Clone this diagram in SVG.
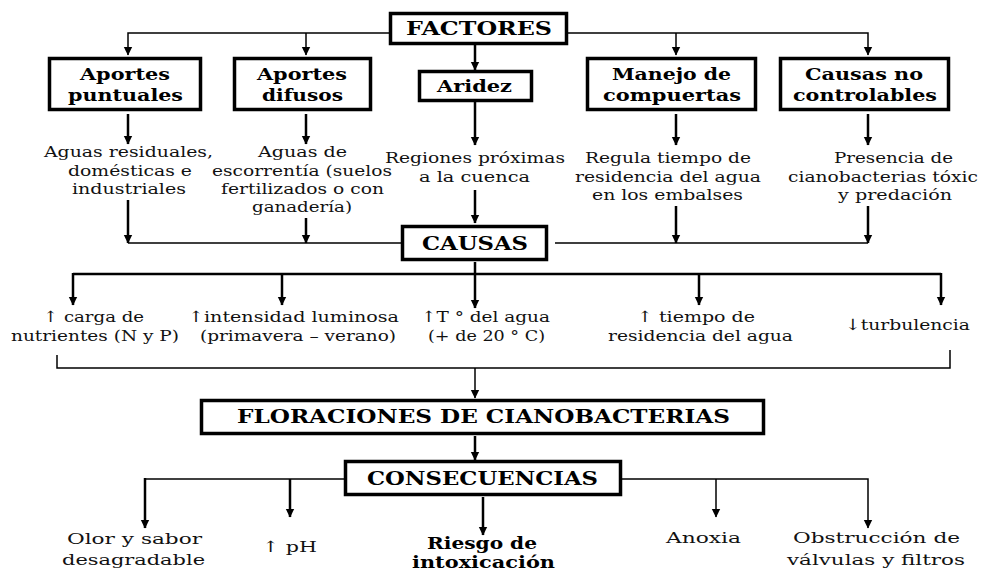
<svg xmlns="http://www.w3.org/2000/svg" width="982" height="571" viewBox="0 0 982 571">
<style>
.box{fill:#fff;stroke:#000;stroke-width:3.5}
.bt{font-family:"DejaVu Serif","Liberation Serif",serif;font-weight:bold;font-size:16.5px;fill:#000;text-anchor:middle}
.bb{font-size:18px}
.t{font-family:"DejaVu Serif","Liberation Serif",serif;font-size:15.5px;fill:#111;text-anchor:middle}
.c{fill:none;stroke:#000;stroke-width:2.5}
.thin{fill:none;stroke:#000;stroke-width:1.5}
</style>
<defs>
<marker id="a" markerUnits="userSpaceOnUse" markerWidth="10" markerHeight="10" viewBox="0 0 10 10" refX="9" refY="5" orient="auto">
<path d="M1,0.8 L9.5,5 L1,9.2 Z" fill="#000"/>
</marker>
</defs>

<g id="connectors">
<path class="thin" d="M389,33 H128 V55" marker-end="url(#a)"/>
<path class="thin" d="M306,33 V55" marker-end="url(#a)"/>
<path class="thin" d="M568,33 H868 V55" marker-end="url(#a)"/>
<path class="thin" d="M676,33 V55" marker-end="url(#a)"/>
<path class="c" d="M475,45 V70" marker-end="url(#a)"/>
<path class="c" d="M128,114 V144" marker-end="url(#a)"/>
<path class="c" d="M306,114 V144" marker-end="url(#a)"/>
<path class="c" d="M475,102 V145" marker-end="url(#a)"/>
<path class="c" d="M676,114 V145" marker-end="url(#a)"/>
<path class="c" d="M868,114 V145" marker-end="url(#a)"/>
<path class="c" d="M128,200 V243" marker-end="url(#a)"/>
<path class="c" d="M306,218 V243" marker-end="url(#a)"/>
<path class="c" d="M475,190 V223" marker-end="url(#a)"/>
<path class="c" d="M676,206 V243" marker-end="url(#a)"/>
<path class="c" d="M868,206 V243" marker-end="url(#a)"/>
<path class="thin" d="M128,243 H401 M555,243 H868"/>
<path class="c" d="M475,262 V308" marker-end="url(#a)"/>
<path class="c" d="M73,274 H941"/>
<path class="c" d="M73,273 V305" marker-end="url(#a)"/>
<path class="c" d="M941,273 V305" marker-end="url(#a)"/>
<path class="c" d="M282,274 V305" marker-end="url(#a)"/>
<path class="c" d="M699,274 V305" marker-end="url(#a)"/>
<path class="thin" d="M57,355 V368 H950 V350"/>
<path class="thin" d="M475,368 V398" marker-end="url(#a)"/>
<path class="c" d="M475,436 V460" marker-end="url(#a)"/>
<path class="thin" d="M344,479 H145"/>
<path class="c" d="M145,478 V528" marker-end="url(#a)"/>
<path class="c" d="M290,479 V517" marker-end="url(#a)"/>
<path class="thin" d="M622,479 H868 V528" marker-end="url(#a)"/>
<path class="thin" d="M716,479 V517" marker-end="url(#a)"/>
<path class="c" d="M483,497 V535" marker-end="url(#a)"/>
</g>

<g id="factores">
<rect class="box" x="390.5" y="13.5" width="176" height="30"/>
<text class="bt bb" x="479" y="35" textLength="146" lengthAdjust="spacingAndGlyphs">FACTORES</text>
</g>
<g id="aportes-puntuales">
<rect class="box" x="49.5" y="58.5" width="151" height="51"/>
<text class="bt" x="125" y="80" textLength="90" lengthAdjust="spacingAndGlyphs">Aportes</text>
<text class="bt" x="125.5" y="101" textLength="115" lengthAdjust="spacingAndGlyphs">puntuales</text>
</g>
<g id="aportes-difusos">
<rect class="box" x="234.5" y="58.5" width="136" height="51"/>
<text class="bt" x="302" y="80" textLength="90" lengthAdjust="spacingAndGlyphs">Aportes</text>
<text class="bt" x="302.5" y="101" textLength="81" lengthAdjust="spacingAndGlyphs">difusos</text>
</g>
<g id="aridez">
<rect class="box" x="419.5" y="71.5" width="112" height="29"/>
<text class="bt" x="474.5" y="92" textLength="75" lengthAdjust="spacingAndGlyphs">Aridez</text>
</g>
<g id="manejo">
<rect class="box" x="587.5" y="58.5" width="168" height="51"/>
<text class="bt" x="671.5" y="80" textLength="119" lengthAdjust="spacingAndGlyphs">Manejo de</text>
<text class="bt" x="672" y="101" textLength="138" lengthAdjust="spacingAndGlyphs">compuertas</text>
</g>
<g id="causas-no-controlables">
<rect class="box" x="780.5" y="58.5" width="168" height="51"/>
<text class="bt" x="864" y="80" textLength="118" lengthAdjust="spacingAndGlyphs">Causas no</text>
<text class="bt" x="865" y="101" textLength="144" lengthAdjust="spacingAndGlyphs">controlables</text>
</g>

<g id="aguas-residuales">
<text class="t" x="128.5" y="157" textLength="169" lengthAdjust="spacingAndGlyphs">Aguas residuales,</text>
<text class="t" x="130" y="176" textLength="124" lengthAdjust="spacingAndGlyphs">domésticas e</text>
<text class="t" x="129" y="194" textLength="114" lengthAdjust="spacingAndGlyphs">industriales</text>
</g>
<g id="aguas-escorrentia">
<text class="t" x="302.5" y="157" textLength="89" lengthAdjust="spacingAndGlyphs">Aguas de</text>
<text class="t" x="302" y="176" textLength="180" lengthAdjust="spacingAndGlyphs">escorrentía (suelos</text>
<text class="t" x="302.5" y="194" textLength="163" lengthAdjust="spacingAndGlyphs">fertilizados o con</text>
<text class="t" x="302" y="212" textLength="100" lengthAdjust="spacingAndGlyphs">ganadería)</text>
</g>
<g id="regiones">
<text class="t" x="475" y="163" textLength="180" lengthAdjust="spacingAndGlyphs">Regiones próximas</text>
<text class="t" x="474.5" y="182" textLength="111" lengthAdjust="spacingAndGlyphs">a la cuenca</text>
</g>
<g id="regula">
<text class="t" x="668" y="163" textLength="166" lengthAdjust="spacingAndGlyphs">Regula tiempo de</text>
<text class="t" x="668" y="182" textLength="186" lengthAdjust="spacingAndGlyphs">residencia del agua</text>
<text class="t" x="667.5" y="200" textLength="151" lengthAdjust="spacingAndGlyphs">en los embalses</text>
</g>
<g id="presencia">
<text class="t" x="893.5" y="163" textLength="119" lengthAdjust="spacingAndGlyphs">Presencia de</text>
<text class="t" x="883" y="182" textLength="190" lengthAdjust="spacingAndGlyphs">cianobacterias tóxic</text>
<text class="t" x="895" y="200" textLength="114" lengthAdjust="spacingAndGlyphs">y predación</text>
</g>

<g id="causas">
<rect class="box" x="402.5" y="226.5" width="144" height="33"/>
<text class="bt bb" x="475" y="250" textLength="106" lengthAdjust="spacingAndGlyphs">CAUSAS</text>
</g>

<g id="carga-nutrientes">
<text class="t" x="93.5" y="322" textLength="101" lengthAdjust="spacingAndGlyphs">↑ carga de</text>
<text class="t" x="95" y="341" textLength="168" lengthAdjust="spacingAndGlyphs">nutrientes (N y P)</text>
</g>
<g id="intensidad">
<text class="t" x="293.5" y="322" textLength="211" lengthAdjust="spacingAndGlyphs">↑intensidad luminosa</text>
<text class="t" x="298" y="341" textLength="196" lengthAdjust="spacingAndGlyphs">(primavera – verano)</text>
</g>
<g id="temperatura">
<text class="t" x="485.5" y="322" textLength="129" lengthAdjust="spacingAndGlyphs">↑T ° del agua</text>
<text class="t" x="486.5" y="341" textLength="117" lengthAdjust="spacingAndGlyphs">(+ de 20 ° C)</text>
</g>
<g id="tiempo-residencia">
<text class="t" x="696" y="322" textLength="118" lengthAdjust="spacingAndGlyphs">↑ tiempo de</text>
<text class="t" x="700.5" y="341" textLength="185" lengthAdjust="spacingAndGlyphs">residencia del agua</text>
</g>
<g id="turbulencia">
<text class="t" x="907.5" y="330" textLength="125" lengthAdjust="spacingAndGlyphs">↓turbulencia</text>
</g>

<g id="floraciones">
<rect class="box" x="201.5" y="400.5" width="562" height="33"/>
<text class="bt bb" x="483.5" y="423" textLength="493" lengthAdjust="spacingAndGlyphs">FLORACIONES DE CIANOBACTERIAS</text>
</g>
<g id="consecuencias">
<rect class="box" x="345.5" y="461.5" width="275" height="33"/>
<text class="bt bb" x="482.5" y="485" textLength="231" lengthAdjust="spacingAndGlyphs">CONSECUENCIAS</text>
</g>

<g id="olor-sabor">
<text class="t" x="134.5" y="544" textLength="135" lengthAdjust="spacingAndGlyphs">Olor y sabor</text>
<text class="t" x="133.5" y="565" textLength="143" lengthAdjust="spacingAndGlyphs">desagradable</text>
</g>
<g id="ph">
<text class="t" x="289.5" y="552" textLength="55" lengthAdjust="spacingAndGlyphs">↑ pH</text>
</g>
<g id="riesgo">
<text class="bt" x="482" y="549" font-size="14.5" textLength="110" lengthAdjust="spacingAndGlyphs">Riesgo de</text>
<text class="bt" x="483.5" y="568" font-size="14.5" textLength="143" lengthAdjust="spacingAndGlyphs">intoxicación</text>
</g>
<g id="anoxia">
<text class="t" x="703.5" y="543" textLength="75" lengthAdjust="spacingAndGlyphs">Anoxia</text>
</g>
<g id="obstruccion">
<text class="t" x="876.5" y="543" textLength="167" lengthAdjust="spacingAndGlyphs">Obstrucción de</text>
<text class="t" x="876" y="565" textLength="178" lengthAdjust="spacingAndGlyphs">válvulas y filtros</text>
</g>
</svg>
